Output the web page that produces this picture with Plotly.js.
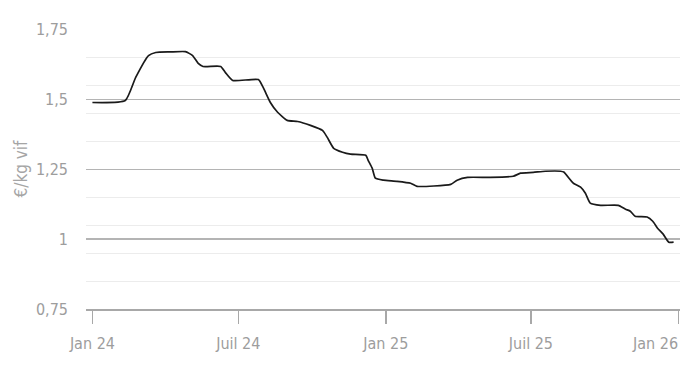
<!DOCTYPE html>
<html>
<head>
<meta charset="utf-8">
<script src="https://cdn.plot.ly/plotly-3.0.1.min.js"></script>
<style>html,body{margin:0;padding:0;background:#fff;}#chart{width:690px;height:388px;}</style>
</head>
<body>
<div id="chart"></div>
<script>
const dates = ["2024-01-01","2024-02-11","2024-02-24","2024-03-11","2024-03-20","2024-04-07","2024-04-26","2024-05-05","2024-05-12","2024-05-18","2024-06-09","2024-06-15","2024-06-24","2024-07-26","2024-08-01","2024-08-10","2024-08-19","2024-08-31","2024-09-13","2024-09-29","2024-10-14","2024-10-20","2024-10-28","2024-11-08","2024-11-18","2024-12-07","2024-12-10","2024-12-15","2024-12-19","2024-12-29","2025-01-15","2025-02-01","2025-02-09","2025-03-23","2025-03-31","2025-04-13","2025-05-11","2025-06-09","2025-06-18","2025-07-04","2025-07-19","2025-08-07","2025-08-11","2025-08-23","2025-09-01","2025-09-07","2025-09-13","2025-09-26","2025-10-18","2025-10-27","2025-11-02","2025-11-08","2025-11-23","2025-11-30","2025-12-06","2025-12-13","2025-12-20","2025-12-26"];
const prices = [1.489,1.496,1.579,1.657,1.668,1.670,1.671,1.657,1.629,1.618,1.618,1.596,1.568,1.571,1.543,1.489,1.454,1.425,1.421,1.407,1.389,1.364,1.325,1.311,1.304,1.300,1.282,1.254,1.218,1.211,1.207,1.200,1.189,1.196,1.211,1.221,1.221,1.225,1.236,1.239,1.243,1.243,1.240,1.200,1.186,1.164,1.129,1.121,1.121,1.107,1.100,1.082,1.079,1.064,1.039,1.018,0.989,0.989];
const xTickVals = ["2024-01-01","2024-07-01","2025-01-01","2025-07-01","2026-01-01"];
const xTickText = ["Jan 24","Juil 24","Jan 25","Juil 25","Jan 26"];
const yTickVals = [0.75,1,1.25,1.5,1.75];
const yTickText = ["0,75","1","1,25","1,5","1,75"];
const yTitle = "€/kg vif";

const font = '"DejaVu Sans Condensed", "Liberation Sans Narrow", Roboto, sans-serif';
const tickColor = '#9d9d9d';
const nLast = xTickText.length - 1;
// the last label is right-aligned on its tick so that it stays inside the page
const shownText = xTickText.map((t, i) => i === nLast ? ' ' : t);

Plotly.newPlot('chart', [{
  x: dates, y: prices, type: 'scatter', mode: 'lines',
  line: {color: '#1a1a1a', width: 1.7, shape: 'spline', smoothing: 0.5}, hoverinfo: 'skip'
}], {
  width: 690, height: 388,
  margin: {l: 86, r: 10, t: 29, b: 79},
  paper_bgcolor: '#fff', plot_bgcolor: '#fff',
  showlegend: false,
  font: {family: font, color: tickColor, size: 16},
  xaxis: {
    type: 'date', range: ['2023-12-24', '2026-01-03'],
    tickvals: xTickVals, ticktext: shownText,
    showgrid: false, zeroline: false,
    showline: true, linecolor: '#a8a8a8', linewidth: 1.5,
    ticks: 'outside', ticklen: 13, tickcolor: '#a8a8a8', tickwidth: 1.5,
    ticklabelstandoff: 6,
    tickfont: {family: font, color: tickColor, size: 16}
  },
  yaxis: {
    range: [0.75, 1.752],
    tickvals: yTickVals, ticktext: yTickText,
    showgrid: true, gridcolor: '#b4b4b4', gridwidth: 1.5,
    zeroline: false, showline: false,
    ticks: '', ticklabelstandoff: 17,
    tickfont: {family: font, color: tickColor, size: 16},
    minor: {tick0: 0.75, dtick: 0.1, showgrid: true, gridcolor: '#ececec', gridwidth: 1},
    title: {text: yTitle, font: {family: font, color: '#a5a5a5', size: 17}, standoff: 4}
  },
  annotations: [{
    x: xTickVals[nLast], y: 0, xref: 'x', yref: 'paper',
    text: xTickText[nLast], showarrow: false,
    xanchor: 'right', yanchor: 'middle', yshift: -34, xshift: 2,
    font: {family: font, color: tickColor, size: 16}
  }]
}, {displayModeBar: false, staticPlot: true});
</script>
</body>
</html>
